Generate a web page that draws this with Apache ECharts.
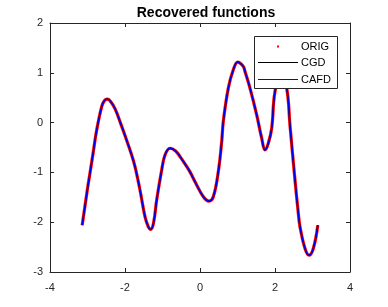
<!DOCTYPE html>
<html>
<head>
<meta charset="utf-8">
<script src="https://cdn.jsdelivr.net/npm/echarts@6/dist/echarts.min.js"></script>
<style>html,body{margin:0;padding:0;background:#fff}#c{width:388px;height:307px}</style>
</head>
<body>
<div id="c"></div>
<script>
// sample positions (x)
var xs = [-3.1416, -3.0, -2.933, -2.85, -2.755, -2.621, -2.55, -2.472, -2.4, -2.267, -2.1, -2.0, -1.822, -1.733, -1.6, -1.467, -1.38, -1.315, -1.24, -1.155, -1.021, -0.933, -0.8, -0.65, -0.533, -0.4, -0.267, -0.133, 0.089, 0.24, 0.355, 0.488, 0.579, 0.621, 0.755, 0.888, 1.005, 1.155, 1.2, 1.333, 1.512, 1.645, 1.733, 1.822, 1.912, 2.0, 2.16, 2.312, 2.4, 2.533, 2.622, 2.667, 2.8, 2.907, 3.022, 3.1416];
// values (the three curves coincide)
var orig = [-2.06, -1.33, -1.01, -0.61, -0.15, 0.32, 0.44, 0.47, 0.44, 0.28, -0.05, -0.26, -0.65, -0.885, -1.354, -1.89, -2.09, -2.145, -2.02, -1.555, -0.952, -0.65, -0.515, -0.57, -0.684, -0.83, -0.99, -1.187, -1.489, -1.575, -1.489, -0.986, -0.382, 0.02, 0.692, 1.06, 1.215, 1.127, 1.026, 0.692, 0.155, -0.314, -0.55, -0.415, -0.113, 0.624, 0.98, 0.692, -0.06, -1.153, -1.823, -2.093, -2.527, -2.662, -2.527, -2.06];
var cgd = orig.slice();
var cafd = orig.slice();
var seriesNames = ['ORIG', 'CGD', 'CAFD'];
var seriesColors = ['#ff0000', '#000000', '#0000ff'];
var xTicks = [-4, -2, 0, 2, 4];
var yTicks = [-3, -2, -1, 0, 1, 2];

function pairs(ys) { return xs.map(function (x, i) { return [x, ys[i]]; }); }

var axisCol = '#262626';
var font = 'Liberation Sans, Arial, sans-serif';
var chart = echarts.init(document.getElementById('c'), null, {renderer: 'canvas'});
var baseAxis = {
  axisLine: {show: true, onZero: false, lineStyle: {color: axisCol, width: 1}},
  axisTick: {show: true, inside: true, length: 4, lineStyle: {color: axisCol}},
  splitLine: {show: false}
};

// legend box drawn as graphic elements (MATLAB-style)
var lg = {x: 254.5, y: 36.5, w: 83, h: 52, rows: [46.5, 62.5, 79.5], lx0: 258, lx1: 298, tx: 301};
var legendEls = [{type: 'rect', shape: {x: lg.x, y: lg.y, width: lg.w, height: lg.h},
  style: {fill: '#fff', stroke: '#262626', lineWidth: 1}, z: 100}];
seriesNames.forEach(function (n, i) {
  var cy = lg.rows[i];
  if (i === 0) {
    legendEls.push({type: 'rect', shape: {x: (lg.lx0 + lg.lx1) / 2 - 1, y: cy - 1, width: 2, height: 2},
      style: {fill: seriesColors[i]}, z: 101});
  } else {
    legendEls.push({type: 'line', shape: {x1: lg.lx0, y1: cy, x2: lg.lx1, y2: cy},
      style: {stroke: seriesColors[i], lineWidth: 1}, z: 101});
  }
  legendEls.push({type: 'text', x: lg.tx, y: cy,
    style: {text: n, fill: '#000', font: '11px ' + font, textVerticalAlign: 'middle', verticalAlign: 'middle'}, z: 101});
});

chart.setOption({
  animation: false,
  backgroundColor: '#fff',
  title: {
    text: 'Recovered functions', left: 201, top: 1, textAlign: 'center',
    textStyle: {fontFamily: font, fontSize: 14, fontWeight: 'bold', color: '#000'}
  },
  grid: {left: 50, right: 38, top: 23, bottom: 35, containLabel: false},
  xAxis: [
    Object.assign({}, baseAxis, {
      type: 'value', min: xTicks[0], max: xTicks[xTicks.length - 1], interval: 2, position: 'bottom',
      axisLabel: {margin: 10, fontFamily: font, fontSize: 11, color: axisCol}
    }),
    Object.assign({}, baseAxis, {
      type: 'value', min: xTicks[0], max: xTicks[xTicks.length - 1], interval: 2, position: 'top',
      axisLabel: {show: false}
    })
  ],
  yAxis: [
    Object.assign({}, baseAxis, {
      type: 'value', min: yTicks[0], max: yTicks[yTicks.length - 1], interval: 1, position: 'left',
      axisLabel: {margin: 7, fontFamily: font, fontSize: 11, color: axisCol}
    }),
    Object.assign({}, baseAxis, {
      type: 'value', min: yTicks[0], max: yTicks[yTicks.length - 1], interval: 1, position: 'right',
      axisLabel: {show: false}
    })
  ],
  graphic: legendEls,
  series: [
    {name: seriesNames[0], type: 'line', data: pairs(orig), smooth: 0.4, symbol: 'none',
      itemStyle: {color: seriesColors[0]}, lineStyle: {color: seriesColors[0], width: 3.2}, z: 1},
    {name: seriesNames[1], type: 'line', data: pairs(cgd), smooth: 0.4, symbol: 'none',
      itemStyle: {color: seriesColors[1]}, lineStyle: {color: seriesColors[1], width: 1.3}, z: 2},
    {name: seriesNames[2], type: 'line', data: pairs(cafd), smooth: 0.4, symbol: 'none',
      itemStyle: {color: seriesColors[2]}, lineStyle: {color: seriesColors[2], width: 1.3}, z: 3}
  ]
});
</script>
</body>
</html>
